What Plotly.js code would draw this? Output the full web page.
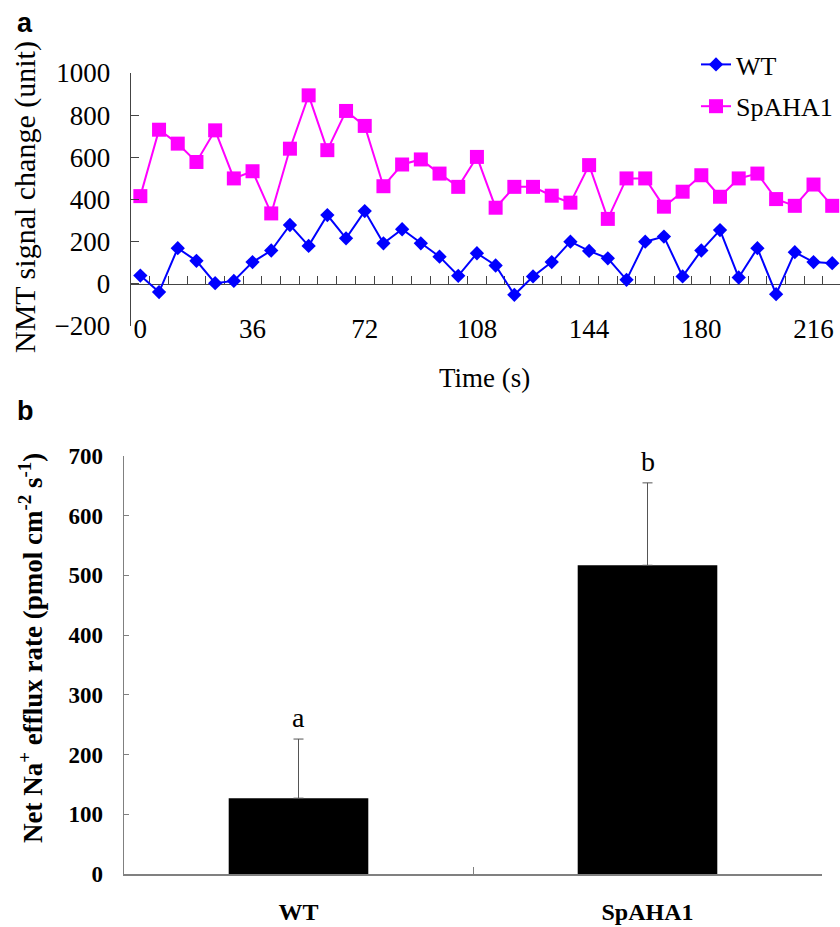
<!DOCTYPE html>
<html>
<head>
<meta charset="utf-8">
<script src="https://cdn.plot.ly/plotly-3.0.1.min.js"></script>
<style>
html,body{margin:0;padding:0;background:#fff;overflow:hidden;}
#chart{width:840px;height:927px;}
</style>
</head>
<body>
<div id="chart"></div>
<script>
// ---- Panel a: NMT signal change over time ----
const timeS = [0,6,12,18,24,30,36,42,48,54,60,66,72,78,84,90,96,102,108,114,120,126,132,138,144,150,156,162,168,174,180,186,192,198,204,210,216,222];
const wtSignal = [39,-39,169,109,3,14,103,158,279,180,326,216,345,192,259,192,129,38,145,87,-52,35,103,200,156,121,19,200,224,35,158,255,30,169,-49,150,103,98];
const spSignal = [416,731,665,578,728,500,534,334,641,894,634,820,749,463,566,590,523,460,602,361,460,460,418,385,563,308,500,500,366,437,515,413,500,523,402,370,471,370];
const timeTickVals = [0,36,72,108,144,180,216];
const timeTickText = ['0','36','72','108','144','180','216'];

// ---- Panel b: net Na+ efflux ----
const lines = ['WT','SpAHA1'];
const effluxMean = [127,517];
const effluxErr = [99,138];
const sigLetters = ['a','b'];

const serif = 'Liberation Serif, Times New Roman, serif';
const W = 840, H = 927;
const px = v => v / W;
const py = v => 1 - v / H;

const traces = [
  {x: timeS, y: wtSignal, name: 'WT', type: 'scatter', mode: 'lines+markers',
   xaxis: 'x', yaxis: 'y', legendgroup: 'g1',
   line: {color: '#0000FF', width: 2},
   marker: {symbol: 'diamond', size: 11, color: '#0000FF'}},
  {x: timeS, y: spSignal, name: 'SpAHA1', type: 'scatter', mode: 'lines+markers',
   xaxis: 'x', yaxis: 'y', legendgroup: 'g2',
   line: {color: '#FF00FF', width: 2},
   marker: {symbol: 'square', size: 14, color: '#FF00FF'}},
  {x: [], y: [], xaxis: 'x2', yaxis: 'y', showlegend: false, hoverinfo: 'skip', type: 'scatter'},
  {x: lines, y: effluxMean, type: 'bar', xaxis: 'x3', yaxis: 'y3', showlegend: false,
   width: 0.4,
   marker: {color: '#000000', line: {color: '#000000', width: 0}},
   error_y: {type: 'data', symmetric: false, array: effluxErr, arrayminus: [0,0],
             color: '#555555', thickness: 1, width: 5}}
];

const annotations = [
  {text: '<b>a</b>', xref: 'paper', yref: 'paper', x: px(25), y: py(23), xanchor: 'center', yanchor: 'middle',
   showarrow: false, font: {family: 'Liberation Sans, Arial, sans-serif', size: 27, color: '#000'}},
  {text: '<b>b</b>', xref: 'paper', yref: 'paper', x: px(25), y: py(411), xanchor: 'center', yanchor: 'middle',
   showarrow: false, font: {family: 'Liberation Sans, Arial, sans-serif', size: 27, color: '#000'}},
  {text: 'NMT signal change (unit)', xref: 'paper', yref: 'paper', x: px(25), y: py(197),
   xanchor: 'center', yanchor: 'middle',
   textangle: -90, showarrow: false, font: {family: serif, size: 30, color: '#000'}},
  {text: 'Time (s)', xref: 'paper', yref: 'paper', x: px(485), y: py(378), xanchor: 'center', yanchor: 'middle',
   showarrow: false, font: {family: serif, size: 27, color: '#000'}},
  {text: '<b>Net Na<sup>+</sup> efflux rate (pmol cm<sup>-2</sup> s<sup>-1</sup>)</b>', xref: 'paper', yref: 'paper',
   x: px(31), y: py(648), xanchor: 'center', yanchor: 'middle',
   textangle: -90, showarrow: false, font: {family: serif, size: 27, color: '#000'}}
];
lines.forEach((c, i) => {
  annotations.push({text: sigLetters[i], xref: 'x3', yref: 'y3', x: c, y: effluxMean[i] + effluxErr[i],
    yanchor: 'bottom', yshift: 4, showarrow: false, font: {family: serif, size: 28, color: '#000'}});
});

const layout = {
  width: W, height: H,
  margin: {l: 0, r: 0, t: 0, b: 0, autoexpand: false},
  paper_bgcolor: '#fff', plot_bgcolor: 'rgba(0,0,0,0)',
  font: {family: serif, color: '#000'},
  showlegend: true,
  legend: {x: px(696), y: py(41), xanchor: 'left', yanchor: 'top',
           font: {family: serif, size: 26, color: '#000'},
           traceorder: 'grouped', tracegroupgap: 5, bgcolor: 'rgba(0,0,0,0)'},
  xaxis: {domain: [px(131), 1], range: [-3, 224.5], anchor: 'free', position: py(310),
          tickmode: 'array', tickvals: timeTickVals, ticktext: timeTickText,
          showline: false, showgrid: false, zeroline: false, ticks: '',
          tickfont: {family: serif, size: 27, color: '#000'}},
  xaxis2: {overlaying: 'x', domain: [px(131), 1], range: [-3, 224.5], anchor: 'free', position: py(284),
           showline: true, linecolor: '#444', linewidth: 1.3, showgrid: false, zeroline: false,
           ticks: 'inside', ticklen: 8, tickcolor: '#444', tick0: -3, dtick: 6, tickmode: 'linear',
           showticklabels: false, layer: 'below traces'},
  yaxis: {domain: [py(326), py(73)], range: [-200, 1000], anchor: 'x',
          dtick: 200, tick0: 0, showline: true, linecolor: '#444', linewidth: 1.3,
          ticks: 'inside', ticklen: 8, tickcolor: '#444', showgrid: false, zeroline: false,
          ticklabelstandoff: 14,
          tickfont: {family: serif, size: 27, color: '#000'}},
  xaxis3: {domain: [px(124), px(822)], anchor: 'y3', type: 'category',
           showline: true, linecolor: '#808080', linewidth: 1.5, showgrid: false, zeroline: false,
           ticks: 'inside', tickson: 'boundaries', ticklen: 7, tickcolor: '#808080',
           ticklabelstandoff: 16,
           tickfont: {family: serif, size: 24, color: '#000', weight: 'bold'}},
  yaxis3: {domain: [py(874), py(456)], range: [0, 700], anchor: 'x3',
           dtick: 100, showline: true, linecolor: '#808080', linewidth: 1.5,
           ticks: 'inside', ticklen: 5, tickcolor: '#808080', showgrid: false, zeroline: false,
           ticklabelstandoff: 15,
           tickfont: {family: serif, size: 23, color: '#000', weight: 'bold'}},
  annotations: annotations
};

Plotly.newPlot('chart', traces, layout, {staticPlot: true, displayModeBar: false});
</script>
</body>
</html>
